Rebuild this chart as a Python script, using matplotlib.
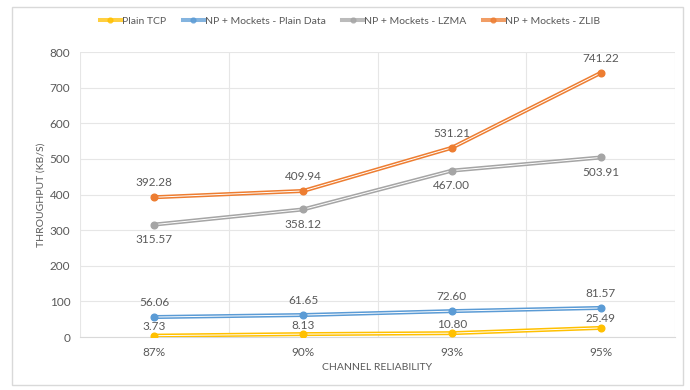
import matplotlib
matplotlib.use("Agg")
import matplotlib.pyplot as plt
from matplotlib.lines import Line2D
from matplotlib.patches import Rectangle

plt.rcParams['font.family'] = ['Lato', 'DejaVu Sans']

# data
reliability = ['87%', '90%', '93%', '95%']
plain_tcp = [3.73, 8.13, 10.80, 25.49]
np_plain = [56.06, 61.65, 72.60, 81.57]
np_lzma = [315.57, 358.12, 467.00, 503.91]
np_zlib = [392.28, 409.94, 531.21, 741.22]

series = [
    ('Plain TCP', plain_tcp, '#FFC000', 6.5),
    ('NP + Mockets - Plain Data', np_plain, '#5B9BD5', 10.5),
    ('NP + Mockets - LZMA', np_lzma, '#A5A5A5', -11),
    ('NP + Mockets - ZLIB', np_zlib, '#ED7D31', 10.5),
]

txt = '#595959'
grid = '#E6E6E6'

fig = plt.figure(figsize=(6.9, 3.9), dpi=100)
ax = fig.add_axes([80/690, 53/390, 595/690, 285/390])

x = list(range(len(reliability)))
handles = []
for name, vals, col, off in series:
    ax.plot(x, vals, color=col, lw=2.9, solid_capstyle='butt', zorder=3)
    ax.plot(x, vals, color='white', lw=0.7, zorder=4)
    ax.plot(x, vals, ls='none', marker='o', ms=4.8, color=col, zorder=5)
    for xi, v in zip(x, vals):
        ax.annotate(f'{v:.2f}', (xi, v), xytext=(0, off), textcoords='offset points',
                    ha='center', va='center', fontsize=8.5, color=txt)
    handles.append(Line2D([0], [0], color=col, lw=2.9, alpha=0.75, marker='o', ms=3.5,
                          markerfacecolor=col, markeredgecolor=col))

ax.set_xlim(-0.5, 3.5)
ax.set_ylim(0, 800)
ax.set_yticks(range(0, 801, 100))
ax.set_xticks(x)
ax.set_xticklabels(reliability)
ax.set_xticks([-0.5, 0.5, 1.5, 2.5, 3.5], minor=True)
ax.grid(axis='y', color=grid, lw=0.8)
ax.grid(axis='x', which='minor', color=grid, lw=0.8)
ax.set_axisbelow(True)
for s in ['top', 'right', 'left']:
    ax.spines[s].set_visible(False)
ax.spines['bottom'].set_color('#D9D9D9')
ax.tick_params(which='both', length=0, colors=txt, labelsize=8.5, pad=7)
ax.set_xlabel('CHANNEL RELIABILITY', color=txt, fontsize=7.5, labelpad=4)
ax.set_ylabel('THROUGHPUT (KB/S)', color=txt, fontsize=7.5, labelpad=3)

fig.legend(handles, [s[0] for s in series], loc='center',
           bbox_to_anchor=(350/690, 1 - 21/390), ncol=4, frameon=False,
           fontsize=7.5, labelcolor=txt, handlelength=2.0, handletextpad=0.1,
           columnspacing=1.6)

fig.patches.append(Rectangle((12/690, 5/390), 671/690, 378/390, transform=fig.transFigure,
                             fill=False, edgecolor='#D9D9D9', lw=1))

fig.savefig('out.png', dpi=100)
